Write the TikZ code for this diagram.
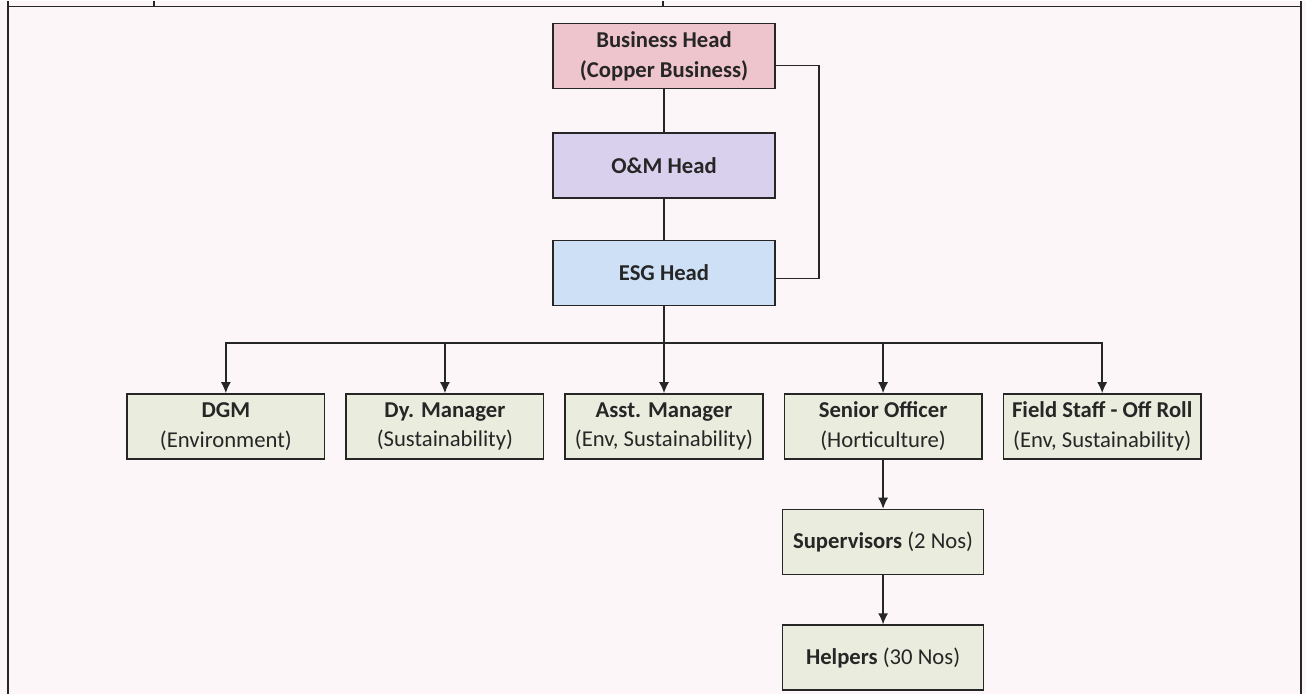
\documentclass[tikz,border=0pt]{standalone}
\usepackage{fontspec}
\setmainfont{Carlito}
\usetikzlibrary{shapes,arrows,arrows.meta,positioning,calc}

\definecolor{pagepink}{RGB}{253,246,248}
\definecolor{bhpink}{RGB}{238,196,205}
\definecolor{omlilac}{RGB}{216,208,236}
\definecolor{esgblue}{RGB}{206,224,246}
\definecolor{rolegreen}{RGB}{234,237,222}
\definecolor{inkgrey}{RGB}{38,38,38}

\begin{document}
\begin{tikzpicture}[node distance=0.85cm, auto]
    \tikzstyle{block} = [rectangle, draw=inkgrey, line width=0.9pt, text=inkgrey, align=center, minimum width=4.44cm, minimum height=1.3cm, font=\fontsize{12.9}{17}\selectfont]
    \tikzstyle{role} = [block, fill=rolegreen, minimum width=3.95cm]
    \tikzstyle{line} = [draw=inkgrey, line width=0.8pt]
    \tikzstyle{arrow} = [line, -{Latex[length=2.2mm,width=2mm]}]

    % page and table frame
    \fill[pagepink] (0,0) rectangle (26.12,-13.86);
    \draw[line] (0.16,-0.11) -- (26.02,-0.11);
    \draw[line] (0.16,0) -- (0.16,-13.86);
    \draw[line] (26.02,0) -- (26.02,-13.86);
    \draw[line] (3.08,0) -- (3.08,-0.11);
    \draw[line] (13.26,0) -- (13.26,-0.11);

    \node [block, fill=bhpink] (bh) at (13.28,-1.11) {\textbf{Business Head}\\\textbf{(Copper Business)}};
    \node [block, fill=omlilac, below=of bh] (om) {\textbf{O\&M Head}};
    \node [block, fill=esgblue, below=0.82cm of om] (esg) {\textbf{ESG Head}};

    \node [role, below=1.74cm of esg] (asst) {\textbf{Asst. Manager}\\(Env, Sustainability)};
    \node [role, left=0.4cm of asst] (dy) {\textbf{Dy. Manager}\\(Sustainability)};
    \node [role, left=0.4cm of dy] (dgm) {\textbf{DGM}\\(Environment)};
    \node [role, right=0.4cm of asst] (so) {\textbf{Senior Officer}\\(Horticulture)};
    \node [role, right=0.4cm of so] (fs) {\textbf{Field Staff - Off Roll}\\(Env, Sustainability)};

    \node [role, minimum width=4.02cm, below=0.98cm of so] (sup) {\textbf{Supervisors} (2 Nos)};
    \node [role, minimum width=4.02cm, below=0.98cm of sup] (help) {\textbf{Helpers} (30 Nos)};

    \path [line] (bh) -- (om);
    \path [line] (om) -- (esg);
    \path [line] ([yshift=-0.19cm]bh.east) -- ++(0.86,0) |- ([yshift=-0.11cm]esg.east);

    \coordinate (bus) at ($(esg.south)+(0,-0.74)$);
    \path [line] (esg) -- (bus);
    \foreach \n in {dgm,dy,asst,so,fs}
        \path [arrow] (bus) -| (\n.north);

    \path [arrow] (so) -- (sup);
    \path [arrow] (sup) -- (help);
\end{tikzpicture}
\end{document}
